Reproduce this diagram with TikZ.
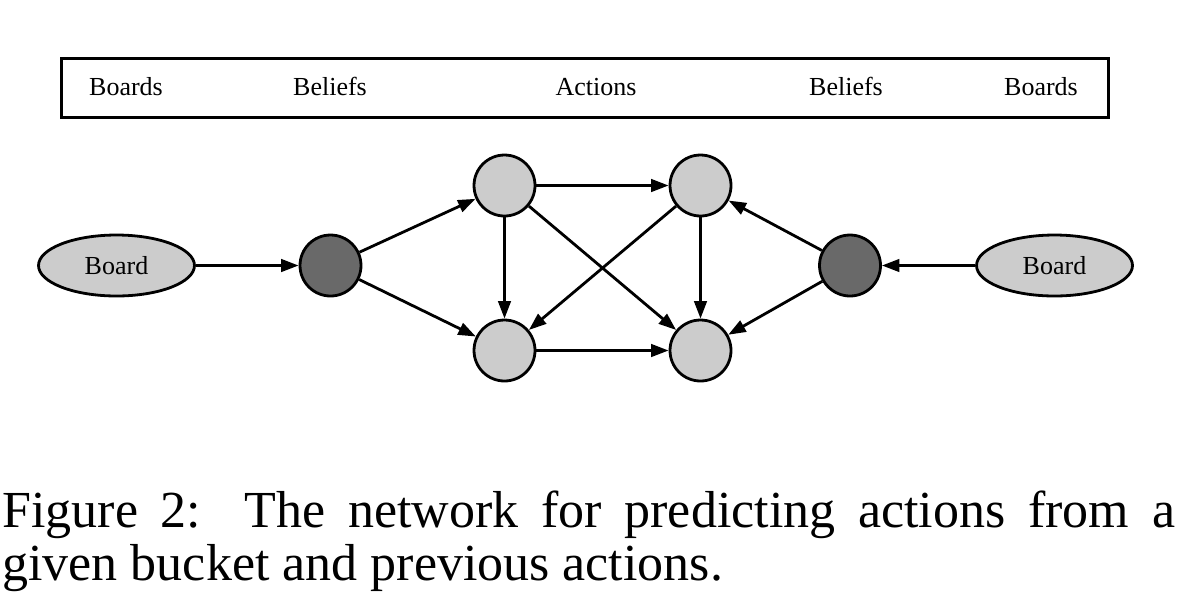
\documentclass[tikz,border=0pt]{standalone}
\usepackage{fontspec}
\setmainfont{Liberation Serif}
\usetikzlibrary{arrows.meta,shapes.geometric}
\definecolor{lightnode}{RGB}{204,204,204}
\definecolor{darknode}{RGB}{105,105,105}
\tikzset{
  lbl/.style={inner sep=0pt, font=\fontsize{14.8pt}{17pt}\selectfont},
  boardnode/.style={ellipse, draw, fill=lightnode, minimum width=3.12cm, minimum height=1.22cm, inner sep=0pt, font=\fontsize{14.8pt}{17pt}\selectfont},
  lightcirc/.style={circle, draw, fill=lightnode, minimum size=1.22cm, inner sep=0pt},
  darkcirc/.style={circle, draw, fill=darknode, minimum size=1.22cm, inner sep=0pt},
  conn/.style={-{Triangle[length=0.35cm,width=0.25cm]}},
  headbox/.style={draw, minimum width=20.94cm, minimum height=1.18cm, inner sep=0pt},
  captext/.style={inner sep=0pt, font=\fontsize{29.6pt}{30pt}\selectfont}
}
\begin{document}
\begin{tikzpicture}[x=0.02cm,y=-0.02cm,line width=0.056cm]
\useasboundingbox (0,0) rectangle (1199,613);
% header
\node[headbox] (hdr) at (585,88) {};
\node[lbl, anchor=base] (h1) at (126,95) {Boards};
\node[lbl, anchor=base] (h2) at (330,95) {Beliefs};
\node[lbl, anchor=base] (h3) at (596,95) {Actions};
\node[lbl, anchor=base] (h4) at (846,95) {Beliefs};
\node[lbl, anchor=base] (h5) at (1041,95) {Boards};
% nodes
\node[boardnode] (bl) at (116.5,265.5) {Board};
\node[darkcirc] (dl) at (330.5,265.5) {};
\node[lightcirc] (tl) at (504.5,185.5) {};
\node[lightcirc] (bbl) at (504.5,350.5) {};
\node[lightcirc] (tr) at (700.5,185.5) {};
\node[lightcirc] (bbr) at (700.5,350.5) {};
\node[darkcirc] (dr) at (850,265.5) {};
\node[boardnode] (br) at (1054.5,265.5) {Board};
% connectors
\draw[conn] (bl) -- (dl);
\draw[conn] (dl) -- (tl);
\draw[conn] (dl) -- (bbl);
\draw[conn] (tl) -- (tr);
\draw[conn] (bbl) -- (bbr);
\draw[conn] (tl) -- (bbl);
\draw[conn] (tr) -- (bbr);
\draw[conn] (tl) -- (bbr);
\draw[conn] (tr) -- (bbl);
\draw[conn] (dr) -- (tr);
\draw[conn] (dr) -- (bbr);
\draw[conn] (br) -- (dr);
% caption
\node[captext, anchor=base west] (cap1) at (1,527) {\makebox[23.46cm][s]{Figure 2:\kern0.12em{} The network for predicting actions from a}};
\node[captext, anchor=base west] (cap2) at (1,580) {given bucket and previous actions.};
\end{tikzpicture}
\end{document}
